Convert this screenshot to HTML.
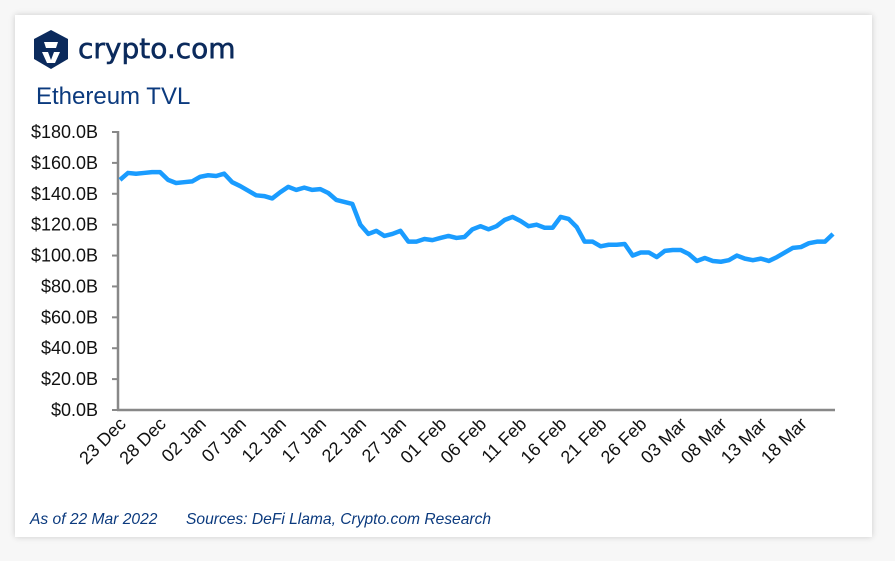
<!DOCTYPE html>
<html><head><meta charset="utf-8"><style>
body{margin:0;width:895px;height:561px;background:#f7f7f7;overflow:hidden;font-family:"Liberation Sans",sans-serif}
#card{position:absolute;left:15px;top:15px;width:857px;height:522px;background:#fff;box-shadow:0 0 6px rgba(0,0,0,0.18)}
</style></head><body>
<div id="card"></div>
<svg width="895" height="561" style="position:absolute;left:0;top:0">
<g>
<polygon points="51,30 68,39 68,59 51,69 34,59 34,39" fill="#0b2a5c"/>
<path d="M44,42 L58,42 L56,48 L46,48 Z M42,52 L48,52 L51,60 L54,52 L60,52 L55,63 L47,63 Z" fill="#fff"/>
<text x="78" y="58" font-size="28" fill="#0b2a5c" font-family="DejaVu Sans, sans-serif" stroke="#0b2a5c" stroke-width="0.6">crypto.com</text>
</g>
<text x="36" y="104" font-size="24" fill="#0b3a7e" font-family="Liberation Sans, sans-serif">Ethereum TVL</text>
<g id="axes"></g>
<text x="30" y="524" font-size="15.6" font-style="italic" fill="#0b3a7e">As of 22 Mar 2022</text>
<text x="186" y="524" font-size="15.6" font-style="italic" fill="#0b3a7e">Sources: DeFi Llama, Crypto.com Research</text>
</svg>
<script>
const values=[149,153.5,153,153.5,154,154,149,147,147.5,148,151,152,151.5,153,147.5,145,142,139,138.5,137,141,144.5,142.5,144,142.5,143,140.5,136,134.7,133.4,120,114,116,112.7,114,116,109,109,110.7,110,111.4,112.7,111.4,112,117,119,117,119,123,125,122.4,119,120,118,118,125,123.7,118.5,109,109,106,107,107,107.5,100,102,102,99,103,103.6,103.6,101,96.5,98.4,96.5,96,97,100,98,97,98,96.5,99,102,105,105.5,108,109,109,114];
const xLabels=["23 Dec","28 Dec","02 Jan","07 Jan","12 Jan","17 Jan","22 Jan","27 Jan","01 Feb","06 Feb","11 Feb","16 Feb","21 Feb","26 Feb","03 Mar","08 Mar","13 Mar","18 Mar"];
const yTicks=[0,20,40,60,80,100,120,140,160,180];
const NS="http://www.w3.org/2000/svg";
const g=document.getElementById('axes');
const X=i=>120+i*(713/89);
const Y=v=>410-v/180*278;
function mk(t,a){const e=document.createElementNS(NS,t);for(const k in a)e.setAttribute(k,a[k]);g.appendChild(e);return e;}
yTicks.forEach(v=>{
 const l=mk('line',{x1:112,x2:118,y1:Y(v),y2:Y(v),stroke:'#888','stroke-width':2});
 
 
 const t=mk('text',{x:98,y:Y(v)+6,'text-anchor':'end','font-size':18,fill:'#111'});
 t.textContent='$'+v.toFixed(1)+'B';
 
 
});
const ya=mk('line',{x1:118,x2:118,y1:131,y2:411,stroke:'#888','stroke-width':2.5});


const xa=mk('line',{x1:117,x2:835,y1:410,y2:410,stroke:'#888','stroke-width':2.5});


xLabels.forEach((s,k)=>{
 const x=X(k*5);
 const t=mk('text',{x:x+7,y:425,'text-anchor':'end','font-size':18,fill:'#111',transform:`rotate(-45 ${x+7} 425)`});
 t.textContent=s;
 
 
});
const p=mk('polyline',{points:values.map((v,i)=>X(i)+','+Y(v)).join(' '),fill:'none',stroke:'#1a9cff','stroke-width':4.5,'stroke-linejoin':'round'});


</script>
</body></html>
